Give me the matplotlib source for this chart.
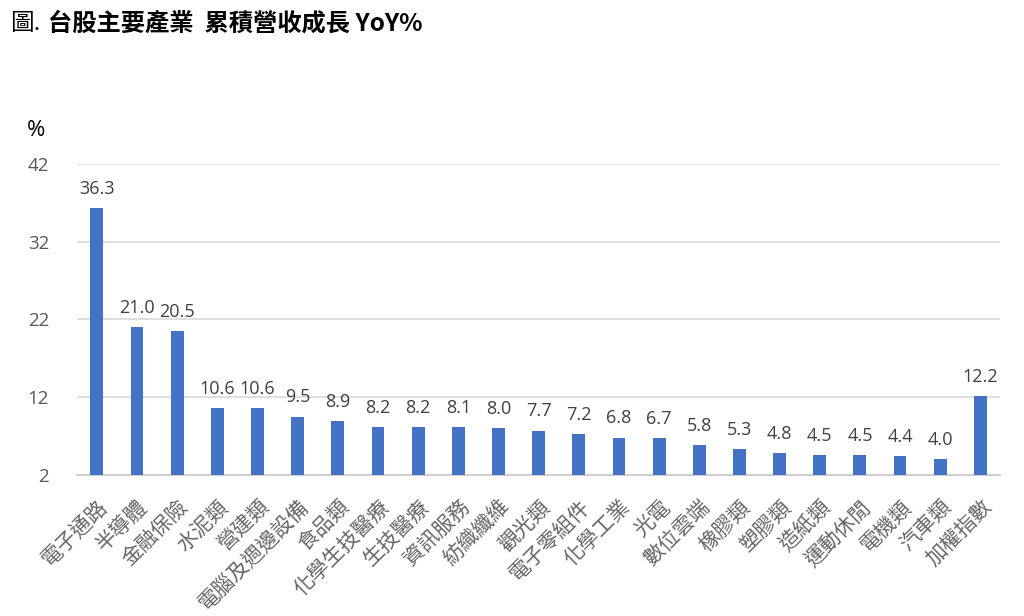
import matplotlib
matplotlib.use("Agg")
import matplotlib.pyplot as plt

plt.rcParams['font.family'] = ['Noto Sans CJK TC', 'DejaVu Sans']

categories = ["電子通路", "半導體", "金融保險", "水泥類", "營建類", "電腦及週邊設備", "食品類",
              "化學生技醫療", "生技醫療", "資訊服務", "紡織纖維", "觀光類", "電子零組件", "化學工業",
              "光電", "數位雲端", "橡膠類", "塑膠類", "造紙類", "運動休閒", "電機類", "汽車類", "加權指數"]
values = [36.3, 21.0, 20.5, 10.6, 10.6, 9.5, 8.9, 8.2, 8.2, 8.1, 8.0, 7.7, 7.2, 6.8,
          6.7, 5.8, 5.3, 4.8, 4.5, 4.5, 4.4, 4.0, 12.2]
yticks = [2, 12, 22, 32, 42]

fig = plt.figure(figsize=(10.24, 6.16), dpi=100)
ax = fig.add_axes([0.075, 0.229, 0.902, 0.505])

x = list(range(len(categories)))
ax.bar(x, [v - 2 for v in values], bottom=2, width=0.32, color="#4472C4", zorder=3)
for xi, v in zip(x, values):
    ax.text(xi, v + 1.3, f"{v:.1f}", ha="center", va="bottom", fontsize=13,
            color="#404040", family=['Open Sans', 'DejaVu Sans'])

ax.set_xlim(-0.5, len(categories) - 0.5)
ax.set_ylim(2, 42)
ax.set_yticks(yticks)
ax.set_yticklabels([str(t) for t in yticks], fontsize=13.5, color="#595959",
                   family=['Open Sans', 'DejaVu Sans'])
ax.yaxis.grid(True, color="#D9D9D9", linewidth=1.2, zorder=0)
ax.set_axisbelow(True)
for s in ["top", "right", "left"]:
    ax.spines[s].set_visible(False)
ax.spines["bottom"].set_color("#D0D0D0")
ax.spines["bottom"].set_linewidth(1.5)
ax.tick_params(axis="both", length=0)
ax.tick_params(axis="y", pad=20)

ax.set_xticks(x)
ax.set_xticklabels(categories, rotation=45, ha="right", rotation_mode="anchor",
                   fontsize=15, color="#666666", fontweight="light")
ax.tick_params(axis="x", pad=15)

fig.text(0.026, 0.788, "%", fontsize=16, color="#000000", ha="left", va="center",
         family=['Open Sans', 'DejaVu Sans'])

fig.text(0.010, 0.962, "圖.", fontsize=17, ha="left", va="center", color="#000000")
fig.text(0.047, 0.962, "台股主要產業  累積營收成長 YoY%", fontsize=17.5, fontweight="bold",
         ha="left", va="center", color="#000000")

fig.savefig("out.png", dpi=100)
